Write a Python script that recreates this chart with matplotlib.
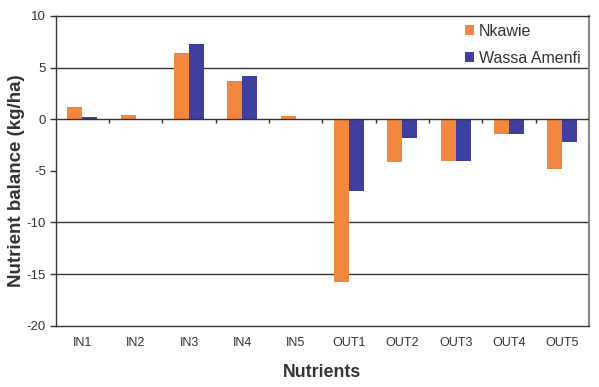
import matplotlib
matplotlib.use("Agg")
import matplotlib.pyplot as plt
import numpy as np

categories = ["IN1", "IN2", "IN3", "IN4", "IN5", "OUT1", "OUT2", "OUT3", "OUT4", "OUT5"]
nkawie = [1.2, 0.45, 6.45, 3.75, 0.33, -15.75, -4.1, -4.0, -1.4, -4.8]
wassa = [0.22, 0.0, 7.3, 4.2, 0.05, -6.95, -1.85, -4.0, -1.4, -2.25]
yticks = [-20, -15, -10, -5, 0, 5, 10]
gridlines = [5, -10, -15]

plt.rcParams['font.family'] = ['Liberation Sans', 'DejaVu Sans']

fig = plt.figure(figsize=(5.99, 3.87), dpi=100)
ax = fig.add_axes([0.093, 0.1584, 0.8903, 0.8003])

x = np.arange(len(categories))
w = 0.28
orange = "#F4873F"
blue = "#3E3F9E"
ax.bar(x - w/2, nkawie, w, color=orange, label="Nkawie", zorder=3)
ax.bar(x + w/2, wassa, w, color=blue, label="Wassa Amenfi", zorder=3)

ax.set_xlim(-0.5, len(categories) - 0.5)
ax.set_ylim(-20, 10)

for g in gridlines:
    ax.axhline(g, color="#333333", lw=1.0, zorder=1)
ax.axhline(0, color="#333333", lw=1.0, zorder=4)
# category boundary ticks on zero line
ax.vlines(x[:-1] + 0.5, 0, -0.4, color="#333333", lw=1.0, zorder=4)

ax.set_yticks(yticks)
ax.set_yticklabels([str(t) for t in yticks], fontsize=9.5, color="#333333")
ax.set_xticks(x)
ax.set_xticklabels(categories, fontsize=9, color="#333333")
ax.tick_params(axis='x', length=0, pad=8)
ax.tick_params(axis='y', length=4, width=1, color="#333333", pad=3)

for s in ["left", "top", "bottom"]:
    ax.spines[s].set_color("#333333")
    ax.spines[s].set_linewidth(1.0)
ax.spines["right"].set_color("#888888")
ax.spines["right"].set_linewidth(1.5)

ax.set_xlabel("Nutrients", fontsize=12.8, fontweight="bold", color="#333333", labelpad=11)
ax.set_ylabel("Nutrient balance (kg/ha)", fontsize=13.5, fontweight="bold", color="#333333")
ax.yaxis.set_label_coords(-0.058, 0.467)

leg = ax.legend(loc="upper left", bbox_to_anchor=(0.74, 1.022), frameon=False,
                handlelength=0.6, handleheight=0.6, handletextpad=0.3,
                labelspacing=0.75, fontsize=11.5)
for t in leg.get_texts():
    t.set_color("#333333")

fig.savefig("out.png", dpi=100)
